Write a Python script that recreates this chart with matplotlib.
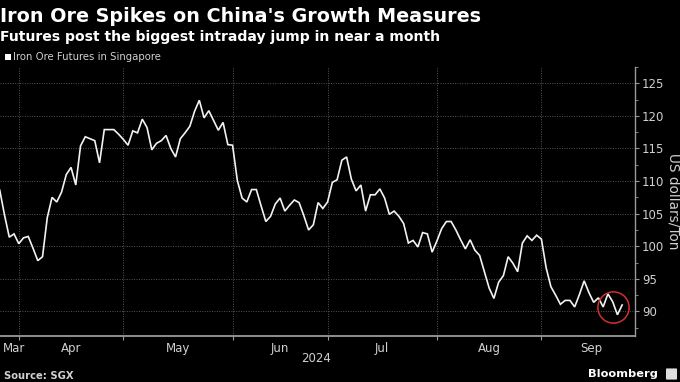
import numpy as np
import matplotlib
matplotlib.use("Agg")
import matplotlib.pyplot as plt
from matplotlib.patches import Rectangle, FancyBboxPatch

# Iron ore futures (SGX), one value per trading day, late Mar - late Sep 2024
prices = [
    108.6, 104.8, 101.4, 101.9, 100.4, 101.3, 101.5, 99.7, 97.8, 98.4,
    104.4, 107.5, 106.8, 108.3, 111.0, 112.1, 109.4, 115.4, 116.8, 116.5,
    116.2, 112.8, 117.9, 117.9, 117.9, 117.2, 116.4, 115.5, 117.7, 117.4,
    119.5, 118.2, 114.8, 115.8, 116.2, 117.0, 115.0, 113.7, 116.5, 117.4,
    118.4, 120.7, 122.4, 119.7, 120.8, 119.3, 117.8, 119.0, 115.6, 115.5,
    110.1, 107.4, 106.8, 108.7, 108.7, 106.2, 103.8, 104.6, 106.5, 107.4,
    105.4, 106.3, 107.1, 106.7, 104.7, 102.5, 103.3, 106.7, 105.8, 106.8,
    109.8, 110.2, 113.2, 113.7, 110.3, 108.5, 109.4, 105.4, 107.9, 107.9,
    108.8, 107.4, 104.9, 105.4, 104.6, 103.5, 100.5, 100.9, 99.9, 102.1,
    101.9, 99.1, 100.8, 102.7, 103.8, 103.8, 102.5, 101.0, 99.6, 101.0,
    99.4, 98.6, 96.1, 93.6, 92.0, 94.5, 95.5, 98.4, 97.4, 96.1,
    100.5, 101.6, 100.9, 101.7, 101.1, 96.7, 93.8, 92.5, 91.1, 91.7,
    91.7, 90.7, 92.6, 94.7, 92.9, 91.4, 92.1, 90.7, 92.7, 91.5,
    89.5, 91.0,
]

# trading-day index where each month starts, and month label spots
month_starts = [4, 26, 49, 69, 92, 114]
month_labels = ["Mar", "Apr", "May", "Jun", "Jul", "Aug", "Sep"]
month_label_pos = [3, 15, 37.5, 59, 80.5, 103, 124.5]
y_ticks = [90, 95, 100, 105, 110, 115, 120, 125]

BG = "#000000"
LINE = "#f2f2f2"
GRID = "#555555"
AXIS = "#9a9a9a"
TXT = "#d0d0d0"

fig = plt.figure(figsize=(6.8, 3.82), dpi=100, facecolor=BG)
ax = fig.add_axes([0.0, 1 - 336 / 382, 635 / 680, (336 - 67) / 382])
ax.set_facecolor(BG)

x = np.arange(len(prices))
y = np.array(prices)
ax.plot(x, y, color=LINE, lw=1.2, solid_joinstyle="miter", zorder=3)

# red circle around the latest move
ax.plot(x[-3], y[-3:].mean(), marker="o", ms=22.5, mfc="none",
        mec="#d0312d", mew=1.1, zorder=4)

ax.set_xlim(0.05, 133.7)
ax.set_ylim(86.24, 125.63)

# axes styling
for side in ["top", "left"]:
    ax.spines[side].set_visible(False)
ax.spines["bottom"].set_color(AXIS)
ax.spines["bottom"].set_linewidth(1.3)
ax.spines["right"].set_color(AXIS)
ax.spines["right"].set_linewidth(1.0)

ax.yaxis.tick_right()
ax.set_yticks(y_ticks)
ax.set_yticks([t - 2.5 for t in y_ticks] + [127.5], minor=True)
ax.tick_params(axis="y", which="major", colors=AXIS, labelcolor=TXT,
               length=3, width=0.8, labelsize=8.5, pad=2)
ax.tick_params(axis="y", which="minor", colors=AXIS, length=2, width=0.6)

ax.set_xticks(month_starts)
ax.set_xticklabels([])
ax.set_xticks(month_label_pos, minor=True)
ax.set_xticklabels(month_labels, minor=True)
ax.tick_params(axis="x", which="major", colors=AXIS, length=3, width=0.8)
ax.tick_params(axis="x", which="minor", length=0, labelcolor=TXT,
               labelsize=8.5, pad=4)

ax.grid(True, which="major", color=GRID, linestyle=(0, (1, 1.5)), lw=0.7)
ax.set_axisbelow(True)

ax.set_ylabel("US dollars/Ton", color=TXT, fontsize=9.8, rotation=270,
              labelpad=12)
ax.yaxis.set_label_position("right")

# header
fig.text(0.0, 1 - 22 / 382, "Iron Ore Spikes on China's Growth Measures",
         color="white", fontsize=13.8, fontweight="bold", va="baseline")
fig.text(0.0, 1 - 41 / 382, "Futures post the biggest intraday jump in near a month",
         color="white", fontsize=10.1, fontweight="bold", va="baseline")
fig.patches.append(Rectangle((5 / 680, 1 - 60 / 382), 6 / 680, 6 / 382,
                             transform=fig.transFigure, facecolor="white",
                             edgecolor="none"))
fig.text(13 / 680, 1 - 57 / 382, "Iron Ore Futures in Singapore",
         color=TXT, fontsize=7.3, va="center")

# footer
fig.text(316 / 680, 1 - 358 / 382, "2024", color=TXT, fontsize=8.5,
         ha="center", va="center")
fig.text(4 / 680, 1 - 376 / 382, "Source: SGX", color=TXT, fontsize=7.2,
         fontweight="bold", va="center")
fig.text(658 / 680, 1 - 374 / 382, "Bloomberg", color="white", fontsize=8.2,
         fontweight="bold", ha="right", va="center")
fig.patches.append(FancyBboxPatch((667 / 680, 1 - 379 / 382), 9 / 680, 10 / 382,
                                  boxstyle="round,pad=0.0015",
                                  transform=fig.transFigure,
                                  facecolor="#dddddd", edgecolor="none"))

fig.savefig("out.png", dpi=100, facecolor=BG)
